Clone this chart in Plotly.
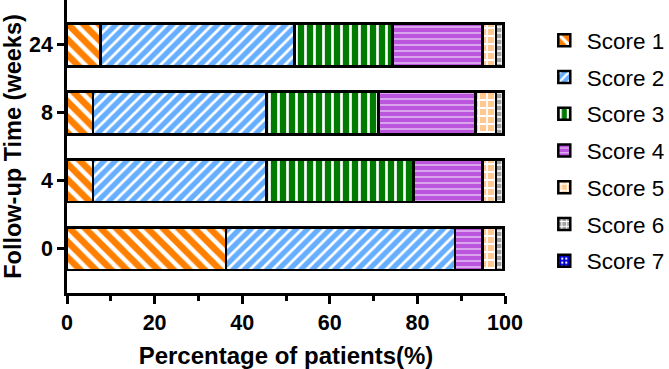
import plotly.graph_objects as go

times = ["0", "4", "8", "24"]
score_names = ["Score 1", "Score 2", "Score 3", "Score 4", "Score 5", "Score 6", "Score 7"]
score1 = [36.3, 5.9, 5.9, 7.6]
score2 = [52.3, 39.7, 39.7, 44.3]
score3 = [0.0, 33.5, 25.5, 22.4]
score4 = [6.3, 15.8, 22.2, 20.6]
score5 = [3.1, 3.1, 4.7, 3.1]
score6 = [1.5, 1.5, 1.5, 1.6]
score7 = [0.5, 0.5, 0.5, 0.4]
values = [score1, score2, score3, score4, score5, score6, score7]

styles = [
    dict(color="#FF8000", shape="\\", fg="white", size=11, sol=0.4),
    dict(color="#66AEFF", shape="/", fg="white", size=8, sol=0.35),
    dict(color="#007A00", shape="|", fg="white", size=9, sol=0.3),
    dict(color="#BB55DD", shape="-", fg="#F0D8F8", size=6, sol=0.2),
    dict(color="#FFC890", shape="+", fg="white", size=8, sol=0.4),
    dict(color="#A0A0A0", shape="+", fg="white", size=6, sol=0.4),
    dict(color="#0000CC", shape=".", fg="white", size=5, sol=0.25),
]

FONT = "Liberation Sans, Arial, sans-serif"

fig = go.Figure()
for name, vals, st in zip(score_names, values, styles):
    fig.add_trace(go.Bar(
        y=times, x=vals, name=name, orientation="h", width=0.63,
        legendgroup=name,
        marker=dict(
            color=st["color"],
            line=dict(color="black", width=2.5),
            pattern=dict(shape=st["shape"], fgcolor=st["fg"], fgopacity=1,
                         size=st["size"], solidity=st["sol"], fillmode="overlay"),
        ),
    ))

fig.update_layout(
    barmode="stack",
    width=669, height=369,
    margin=dict(l=67, r=164, t=0, b=76, autoexpand=False),
    plot_bgcolor="white", paper_bgcolor="white",
    font=dict(family=FONT, color="black"),
    legend=dict(
        x=1.084, y=0.935, xanchor="left", yanchor="top",
        traceorder="grouped", tracegroupgap=4.5,
        font=dict(size=22.5, family=FONT),
        itemwidth=35,
    ),
    xaxis=dict(
        range=[0, 100], tickvals=[0, 20, 40, 60, 80, 100],
        showgrid=False, zeroline=False, automargin=False,
        showline=True, linecolor="black", linewidth=2.5,
        ticks="outside", ticklen=8, tickwidth=2.5, tickcolor="black",
        minor=dict(tickvals=[10, 30, 50, 70, 90], ticks="outside", ticklen=5,
                   tickwidth=2.5, tickcolor="black"),
        tickfont=dict(size=21.5, family=FONT, weight="bold"),
        title=dict(text="<b>Percentage of patients(%)</b>", font=dict(size=24), standoff=19),
    ),
    yaxis=dict(
        type="category", categoryorder="array", categoryarray=times,
        range=[-0.65, 3.66],
        showgrid=False, zeroline=False, automargin=False,
        showline=True, linecolor="black", linewidth=2.5,
        ticks="outside", ticklen=7, tickwidth=2.5, tickcolor="black",
        tickfont=dict(size=21.5, family=FONT, weight="bold"),
        title=dict(text="<b>Follow-up Time (weeks)</b>", font=dict(size=23.5), standoff=8),
    ),
)

fig.write_html("out.html", config={"displayModeBar": False},
               post_script="document.body.style.margin='0';")
